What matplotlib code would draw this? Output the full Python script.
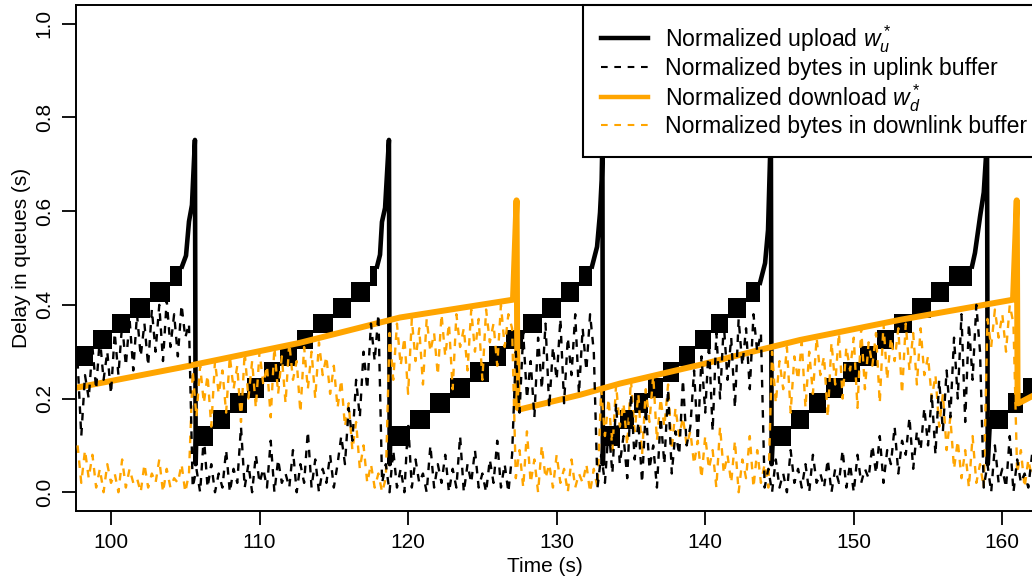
import numpy as np
import matplotlib
matplotlib.use('Agg')
import matplotlib.pyplot as plt
from matplotlib.lines import Line2D

plt.rcParams['font.family'] = ['Liberation Sans', 'DejaVu Sans']
plt.rcParams['mathtext.fontset'] = 'custom'
plt.rcParams['mathtext.it'] = 'Liberation Sans:italic'
plt.rcParams['mathtext.rm'] = 'Liberation Sans'

# ---------------- data ----------------
# Normalized upload w_u*: staircase (rapid oscillation band per step), per cycle
up_edges_1 = [97.66, 98.79, 100.07, 101.28, 102.63, 103.97, 104.78]
up_levels_1 = [0.291, 0.326, 0.360, 0.394, 0.428, 0.462]
up_edges_2 = [105.72, 106.87, 108.01, 109.16, 110.30, 111.38, 112.52, 113.60, 114.94, 116.16, 117.44, 117.91]
up_levels_2 = [0.120, 0.155, 0.190, 0.223, 0.257, 0.291, 0.326, 0.360, 0.394, 0.428, 0.462]
up_edges_3 = [118.78, 120.13, 121.48, 122.82, 124.17, 125.45, 126.59, 127.74, 129.01, 130.29, 131.50, 132.38]
up_levels_3 = [0.120, 0.155, 0.190, 0.223, 0.257, 0.291, 0.326, 0.360, 0.394, 0.428, 0.462]
up_edges_4 = [133.12, 134.26, 135.21, 136.15, 137.16, 138.24, 139.31, 140.39, 141.53, 142.75, 143.69]
up_levels_4 = [0.120, 0.155, 0.190, 0.223, 0.257, 0.291, 0.326, 0.360, 0.394, 0.428]
up_edges_5 = [144.56, 145.78, 146.99, 148.13, 149.28, 150.42, 151.57, 152.71, 153.92, 155.20, 156.41, 157.96]
up_levels_5 = [0.120, 0.155, 0.190, 0.223, 0.257, 0.291, 0.326, 0.360, 0.394, 0.428, 0.462]
up_edges_6 = [159.17, 160.38, 161.39, 162.30]
up_levels_6 = [0.155, 0.190, 0.223]
up_band_half = 0.021

# w_u* rise to the peak and drop at the end of each cycle (nan separates cycles)
wu_t = [104.78, 105.05, 105.25, 105.45, 105.65, 105.70, 105.74, np.nan,
        117.91, 118.11, 118.24, 118.45, 118.71, 118.76, 118.80, np.nan,
        132.38, 132.72, 132.92, 133.03, 133.08, 133.11, 133.15, np.nan,
        143.69, 144.03, 144.23, 144.36, 144.42, 144.47, 144.56, np.nan,
        157.96, 158.16, 158.50, 158.75, 158.97, 159.02, 159.17]
wu_v = [0.482, 0.505, 0.578, 0.613, 0.752, 0.060, 0.120, np.nan,
        0.482, 0.507, 0.577, 0.607, 0.752, 0.060, 0.120, np.nan,
        0.482, 0.524, 0.597, 0.667, 0.752, 0.060, 0.120, np.nan,
        0.447, 0.489, 0.560, 0.709, 0.752, 0.060, 0.120, np.nan,
        0.482, 0.511, 0.588, 0.640, 0.752, 0.060, 0.155]

# Normalized download w_d*
wd_t = [97.64, 104.64, 112.72, 119.45, 127.06, 127.30, 127.36, 127.53, 131.57, 134.26,
        139.65, 143.69, 146.38, 153.11, 160.72, 160.97, 161.03, 161.10, 162.30]
wd_v = [0.223, 0.266, 0.319, 0.373, 0.411, 0.623, 0.180, 0.177, 0.208, 0.232,
        0.272, 0.304, 0.325, 0.368, 0.411, 0.623, 0.190, 0.190, 0.210]

# buffers sampled every 0.25 s from 97.75 s (values in hundredths)
buf_t0 = 97.75
buf_dt = 0.25
uplink_buf = [
    28, 12, 25, 20, 31, 22, 33, 24, 30, 21, 34, 25, 36, 27, 37, 26, 38, 29, 36, 27,
    39, 30, 40, 28, 41, 31, 38, 29, 40, 33, 36,
    1, 5, 0, 12, 1, 6, 0, 4, 1, 9, 0, 5, 2, 14, 1, 6, 0, 8, 2, 5,
    1, 11, 0, 7, 2, 4, 1, 9, 0, 6, 2, 13, 1, 7, 0, 5, 2, 8, 1, 6,
    12, 6, 18, 11, 24, 16, 30, 22, 36, 28, 38,
    2, 6, 0, 9, 1, 5, 0, 15, 1, 7, 2, 4, 0, 10, 1, 6, 2, 8, 0, 5,
    1, 12, 0, 6, 2, 9, 1, 4, 0, 7, 2, 11, 1, 6, 0, 8,
    30, 17, 34, 20, 28, 16, 33, 22, 36, 18, 31, 24, 37, 19, 33, 25, 38, 21, 35, 26, 38, 30,
    1, 8, 2, 14, 4, 19, 6, 12, 3, 21, 7, 15, 2, 18, 5, 10, 1, 16, 6, 22, 4, 13, 8, 24, 10,
    14, 26, 11, 29, 17, 32, 13, 34, 20, 36, 24, 33, 18, 37, 27, 35, 22, 38, 30, 34,
    1, 5, 0, 7, 1, 4, 0, 9, 2, 5, 1, 6, 0, 8, 2, 4, 1, 7, 0, 5, 2, 9, 1, 6, 0, 8, 2, 5,
    3, 10, 4, 12, 2, 9, 6, 14, 4, 11, 8, 16, 5, 13, 9, 18,
    10, 21, 8, 24, 13, 26, 16, 33, 20, 38, 15, 36, 24, 40, 30,
    1, 6, 0, 10, 2, 5, 1, 12, 0, 7, 2, 4, 1, 8,
]
downlink_buf = [
    10, 2, 9, 3, 8,
    1, 5, 0, 6, 2, 4, 0, 7, 1, 5, 2, 3, 0, 6, 1, 4, 2, 7, 0, 5, 1, 3, 2, 6, 0, 4,
    26, 16, 27, 19, 25, 14, 28, 21, 26, 17, 29, 22, 27, 15, 30, 20, 28, 18, 30, 23,
    27, 16, 31, 21, 29, 19, 32, 24, 28, 17, 31, 22, 30, 20, 32, 25, 29, 21,
    27, 18, 24, 14, 19, 9, 15, 5, 10, 2, 6,
    1, 4, 0, 3,
    34, 24, 36, 27, 33, 21, 37, 28, 35, 23, 37, 30, 34, 25, 38, 29, 36, 22, 38, 31,
    35, 26, 39, 30, 37, 24, 39, 32, 36, 27, 40, 31, 38, 35,
    3, 9, 1, 13, 2, 7, 0, 10, 3, 6, 1, 8, 2, 5, 0, 7, 1, 4, 2, 6, 0, 5, 1,
    22, 12, 20, 9, 23, 14, 19, 10, 24, 13, 21, 8, 22, 15, 25, 11, 20, 14, 23, 9, 18, 12, 16,
    10, 13, 6, 11, 3, 12, 5, 9, 1, 14, 4, 8, 2, 11, 0, 7, 3, 12, 1, 9, 2, 6, 1,
    30, 19, 28, 22, 31, 17, 29, 24, 32, 18, 30, 21, 33, 25, 29, 16, 32, 23, 34, 20,
    31, 26, 33, 18, 35, 22, 32, 27, 34, 19, 36, 24, 33, 28, 35, 21, 36, 26, 34, 23, 35, 25,
    29, 20, 25, 14, 21, 9, 16, 5, 11,
    3, 9, 1, 12, 2, 6, 1,
    37, 31, 39, 33, 38, 30, 40, 36,
    4, 9, 1, 7, 3,
]

x_ticks = [100, 110, 120, 130, 140, 150, 160]
y_ticks = [0.0, 0.2, 0.4, 0.6, 0.8, 1.0]
y_tick_labels = ['0.0', '0.2', '0.4', '0.6', '0.8', '1.0']
legend_labels = [r'Normalized upload $w_u^*$', 'Normalized bytes in uplink buffer',
                 r'Normalized download $w_d^*$', 'Normalized bytes in downlink buffer']

# ---------------- plot ----------------
ORANGE = '#FFA500'
W, H = 1032, 583
fig = plt.figure(figsize=(W / 100, H / 100), dpi=100)
ax = fig.add_axes([76 / W, (H - 511) / H, (1035 - 76) / W, (511 - 5) / H])
ax.set_xlim(97.644, 162.20)
ax.set_ylim(-0.04, 1.04)

# staircase bands
for edges, levels in [(up_edges_1, up_levels_1), (up_edges_2, up_levels_2),
                      (up_edges_3, up_levels_3), (up_edges_4, up_levels_4),
                      (up_edges_5, up_levels_5), (up_edges_6, up_levels_6)]:
    lv = np.array(list(levels) + [levels[-1]])
    ax.fill_between(edges, lv - up_band_half, lv + up_band_half, step='post',
                    color='black', lw=0, zorder=1)
ax.plot(wu_t, wu_v, color='black', lw=3.3, zorder=1.5, solid_joinstyle='round')

ax.plot(wd_t, wd_v, color=ORANGE, lw=4.3, zorder=2)

bt = buf_t0 + buf_dt * np.arange(len(uplink_buf))
ax.plot(bt, np.array(downlink_buf) / 100.0, color=ORANGE, lw=1.7,
        linestyle=(0, (3.2, 3.2)), zorder=3)
ax.plot(bt, np.array(uplink_buf) / 100.0, color='black', lw=1.7,
        linestyle=(0, (3.2, 3.2)), zorder=4)

ax.set_xticks(x_ticks)
ax.set_yticks(y_ticks)
ax.set_yticklabels(y_tick_labels)
ax.tick_params(axis='both', direction='out', length=10, width=1.3, labelsize=15, pad=6)
ax.tick_params(axis='y', labelrotation=90)
for lab in ax.get_yticklabels():
    lab.set_va('center')
for s in ax.spines.values():
    s.set_linewidth(1.4)

fig.text(545 / W, 1 - 566 / H, 'Time (s)', ha='center', va='center', fontsize=15)
fig.text(22 / W, 1 - 258 / H, 'Delay in queues (s)', ha='center', va='center',
         rotation=90, fontsize=15)

handles = [Line2D([], [], color='black', lw=3.2),
           Line2D([], [], color='black', lw=1.5, linestyle=(0, (3.2, 3.2))),
           Line2D([], [], color=ORANGE, lw=3.2),
           Line2D([], [], color=ORANGE, lw=1.5, linestyle=(0, (3.2, 3.2)))]
leg_x0 = (583 - 76) / 959
leg_w = (1050 - 583) / 959
leg = ax.legend(handles, legend_labels, loc='upper left', mode='expand',
                bbox_to_anchor=(leg_x0, 0.0, leg_w, 1.0), borderaxespad=0,
                fontsize=16.6, frameon=True, fancybox=False, framealpha=1,
                edgecolor='black', borderpad=0.8, labelspacing=0.08,
                handlelength=2.0, handletextpad=0.75)
leg.get_frame().set_linewidth(1.5)
leg.set_zorder(10)

fig.savefig('out.png', dpi=100)
